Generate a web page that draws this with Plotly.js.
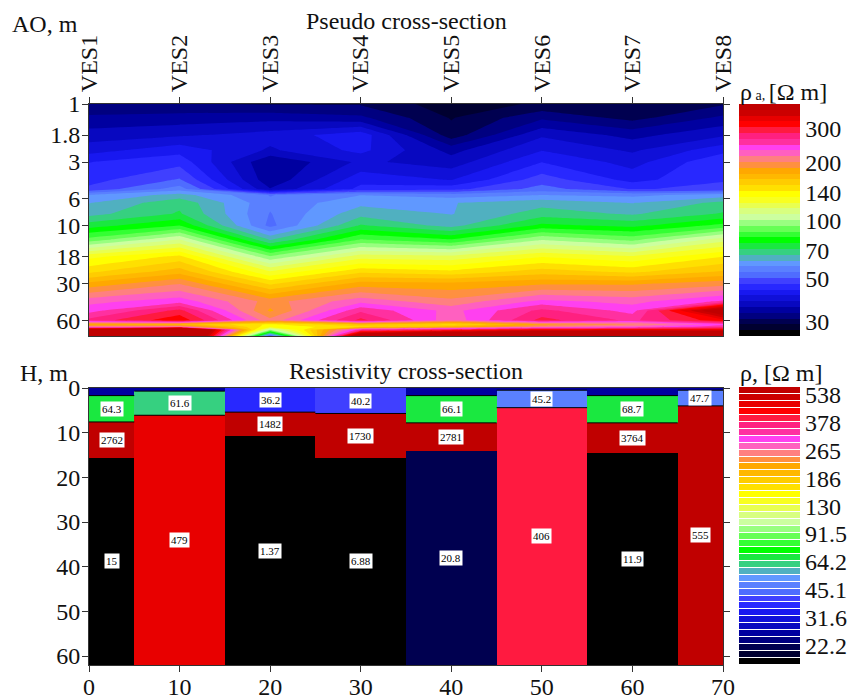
<!DOCTYPE html>
<html><head><meta charset="utf-8">
<script src="https://cdn.plot.ly/plotly-3.0.1.min.js"></script>
<style>html,body{margin:0;padding:0;background:#fff}</style></head>
<body><div id="chart" style="width:853px;height:698px"></div>
<script>
// palette, top of the scale to bottom
const palette=['#c00000','#cc0000','#e80000','#ff0000','#ff1a40','#ff2080','#ff30a0','#ff40f0','#ff60c0','#ff8080','#ff9040','#ffa800','#ffb800','#ffcc00','#ffe000','#ffff00','#f8ff20','#e8ff50','#d8ff80','#ccffa0','#99ff80','#66ff55','#33ff33','#00ff00','#1ae840','#36d080','#50b0c0','#6098ff','#5a80ff','#4f6cff','#4040ff','#2828ff','#1818f0','#1010d8','#0808c0','#0000a0','#000080','#000050','#000030','#000000'];
// pseudo section
const vesNames=['VES1','VES2','VES3','VES4','VES5','VES6','VES7','VES8'];
const vesPos=[0,10,20,30,40,50,60,70];
const aoTicks=[1,1.8,3,6,10,18,30,60];
const aoRows=[1,1.3,1.8,2.4,3,4.2,5,5.6,6.5,8,10,13,18,24,30,42,50,60,65,68,72,81];
const rho=[
[31.5,31.5,31,31,28,29.5,29.5,31],
[34,34.5,35,34,29,33,30.5,34],
[37,38,39.5,43,30,38,35,38],
[40,43,38,42,35,41,38,43],
[44,46,33.5,39,37,44,40,47],
[46,51,34,43,41,49,43,47],
[48,56,36,45,46,52,47,48],
[58,64,54,58,56,58,57,60],
[62,70,55,61,62,65,62,68],
[65,72,54,65,62,69,66,72],
[74,82,53,72,65,78,75,84],
[90,108,66,88,82,100,92,112],
[130,145,95,120,118,132,125,142],
[150,170,125,150,145,158,150,165],
[178,200,150,180,178,185,185,195],
[225,240,195,225,205,235,225,250],
[240,290,185,260,225,270,240,430],
[270,320,205,290,220,290,260,320],
[175,170,140,165,150,185,200,240],
[215,215,135,150,170,210,225,260],
[430,800,100,260,290,330,340,330],
[620,900,50,480,600,600,600,600]];
const contourLow=25.4, contourHigh=400;
const rhoTicks=[300,200,140,100,70,50,30];
// resistivity section: layers top to bottom per sounding
const colCenters=[0,10,20,30,40,50,60,70];
const layerDepths=[
[1.7,7.6,15.6,62],
[0.7,6.1,62],
[5.4,10.8,62],
[5.7,15.6,62],
[1.7,7.8,14,62],
[0.5,4.4,62],
[1.7,7.8,14.5,62],
[0.5,4,62]];
const layerRho=[
[25,64.3,2762,15],
[25,61.6,479],
[36.2,1482,1.37],
[40.2,1730,6.88],
[25,66.1,2781,20.8],
[25,45.2,406],
[25,68.7,3764,11.9],
[25,47.7,555]];
const layerText=[
['','64.3','2762','15'],
['','61.6','479'],
['36.2','1482','1.37'],
['40.2','1730','6.88'],
['','66.1','2781','20.8'],
['','45.2','406'],
['','68.7','3764','11.9'],
['','47.7','555']];
const hTicks=[0,10,20,30,40,50,60];
const distTicks=[0,10,20,30,40,50,60,70];
const scaleLabels=['538','378','265','186','130','91.5','64.2','45.1','31.6','22.2'];

const W=853,H=698;
const fx=p=>p/W, fy=p=>1-p/H;
const serif='"Liberation Serif","Times New Roman",serif';
const fs=24;
const colorFor=v=>{const s=Math.log10(538/v)/0.0385;const i=v>538?0:Math.min(39,1+Math.floor(s));return palette[Math.max(0,i)];};

const lo=Math.log10(contourLow),hi=Math.log10(contourHigh),step=(hi-lo)/40;
const cs=[];palette.slice().reverse().forEach((c,i)=>{cs.push([i/40,c]);cs.push([(i+1)/40,c]);});

const traces=[{
 type:'contour',x:vesPos,y:aoRows,z:rho.map(r=>r.map(v=>Math.log10(v))),
 xaxis:'x',yaxis:'y',zmin:lo,zmax:hi,zauto:false,colorscale:cs,
 autocontour:false,contours:{coloring:'fill',start:lo,end:hi,size:step,showlines:false},
 line:{width:0,smoothing:0},hoverinfo:'skip',
 colorbar:{x:fx(739),xanchor:'left',xref:'paper',y:fy(220),yref:'paper',yanchor:'middle',lenmode:'pixels',len:232,thicknessmode:'pixels',thickness:61,
  tickmode:'array',tickvals:rhoTicks.map(v=>Math.log10(v)),ticktext:rhoTicks.map(String),ticks:'',ticklabelposition:'outside',
  tickfont:{family:serif,size:fs,color:'#111'},outlinewidth:0,borderwidth:0,xpad:0,ypad:0,bgcolor:'rgba(0,0,0,0)'}
}];
// stacked bars for the layers
const maxL=Math.max(...layerDepths.map(d=>d.length));
for(let l=0;l<maxL;l++){
 traces.push({type:'bar',xaxis:'x2',yaxis:'y2',x:colCenters,width:10,
  y:layerDepths.map(d=>l<d.length?(d[l]-(l?d[l-1]:0)):0),
  marker:{color:layerRho.map(r=>l<r.length?colorFor(r[l]):'#000'),line:{width:0}},hoverinfo:'skip',showlegend:false});
}
// thin black interface lines
const ifx=[],ify=[];
layerDepths.forEach((d,i)=>{const a=Math.max(0,colCenters[i]-5),b=Math.min(70,colCenters[i]+5);
 d.slice(0,-1).forEach((v,j)=>{ if(layerRho[i][j]<1000){ifx.push(a,b,null);ify.push(v,v,null);} });});
traces.push({type:'scatter',mode:'lines',xaxis:'x2',yaxis:'y2',x:ifx,y:ify,line:{color:'#000',width:1},hoverinfo:'skip',showlegend:false});
// discrete scale strip for the lower chart
traces.push({type:'heatmap',xaxis:'x3',yaxis:'y3',x:[0],y:palette.map((c,i)=>i),z:palette.map((c,i)=>[i]),
 colorscale:palette.map((c,i)=>[i/39,c]),zmin:0,zmax:39,showscale:false,ygap:1,hoverinfo:'skip'});

const ann=[];
layerDepths.forEach((d,i)=>{const a=Math.max(0,colCenters[i]-5),b=Math.min(70,colCenters[i]+5);
 d.forEach((v,j)=>{const t=layerText[i][j];if(!t)return;const top=j?d[j-1]:0;
  ann.push({xref:'x2',yref:'y2',x:(a+b)/2,y:(top+v)/2,text:t,showarrow:false,bgcolor:'#fff',borderpad:1,font:{family:serif,size:11,color:'#000'}});});});
const lab=(x,y,text,anchor='left',size=fs)=>({xref:'paper',yref:'paper',x:fx(x),y:fy(y),text,showarrow:false,xanchor:anchor,yanchor:'middle',font:{family:serif,size,color:'#111'}});
ann.push(lab(10,24,'AO, m'),lab(406,21,'Pseudo cross-section','center'),lab(18,373,'H, m'),lab(406,371,'Resistivity cross-section','center'),
 lab(738,92,'ρ<span style="font-size:14px"> a, </span>[Ω m]'),lab(738,373,'ρ, [Ω m]'));

const axBase={showline:true,linecolor:'#333',linewidth:1,ticks:'outside',ticklen:6,tickcolor:'#333',tickfont:{family:serif,size:fs,color:'#111'},showgrid:false,zeroline:false,fixedrange:true};
const layout={width:W,height:H,margin:{l:0,r:0,t:0,b:0,autoexpand:false},paper_bgcolor:'#fff',plot_bgcolor:'#fff',showlegend:false,barmode:'stack',bargap:0,
 xaxis:{...axBase,domain:[fx(89),fx(723)],range:[0,70],side:'top',anchor:'y',mirror:true,tickmode:'array',tickvals:vesPos,ticktext:vesNames,tickangle:-90},
 yaxis:{...axBase,domain:[fy(336),fy(104)],type:'log',range:[Math.log10(81),0],anchor:'x',mirror:'ticks',tickmode:'array',tickvals:aoTicks,ticktext:aoTicks.map(String),ticklabelstandoff:-3},
 xaxis2:{...axBase,domain:[fx(89),fx(723)],range:[0,70],anchor:'y2',mirror:true,tickmode:'array',tickvals:distTicks,ticklabelstandoff:-6},
 yaxis2:{...axBase,domain:[fy(665),fy(388)],range:[62,0],anchor:'x2',mirror:'ticks',tickmode:'array',tickvals:hTicks,ticklabelstandoff:-3},
 xaxis3:{domain:[fx(739),fx(800)],anchor:'y3',visible:false,fixedrange:true},
 yaxis3:{domain:[fy(665),fy(387)],anchor:'x3',side:'right',range:[39.5,-0.5],showline:false,showgrid:false,zeroline:false,ticks:'',tickmode:'array',ticklabelstandoff:4,
  tickvals:scaleLabels.map((s,i)=>0.65+i*4),ticktext:scaleLabels,tickfont:{family:serif,size:fs,color:'#111'},fixedrange:true},
 annotations:ann};
Plotly.newPlot('chart',traces,layout,{staticPlot:true,displayModeBar:false});
</script></body></html>
